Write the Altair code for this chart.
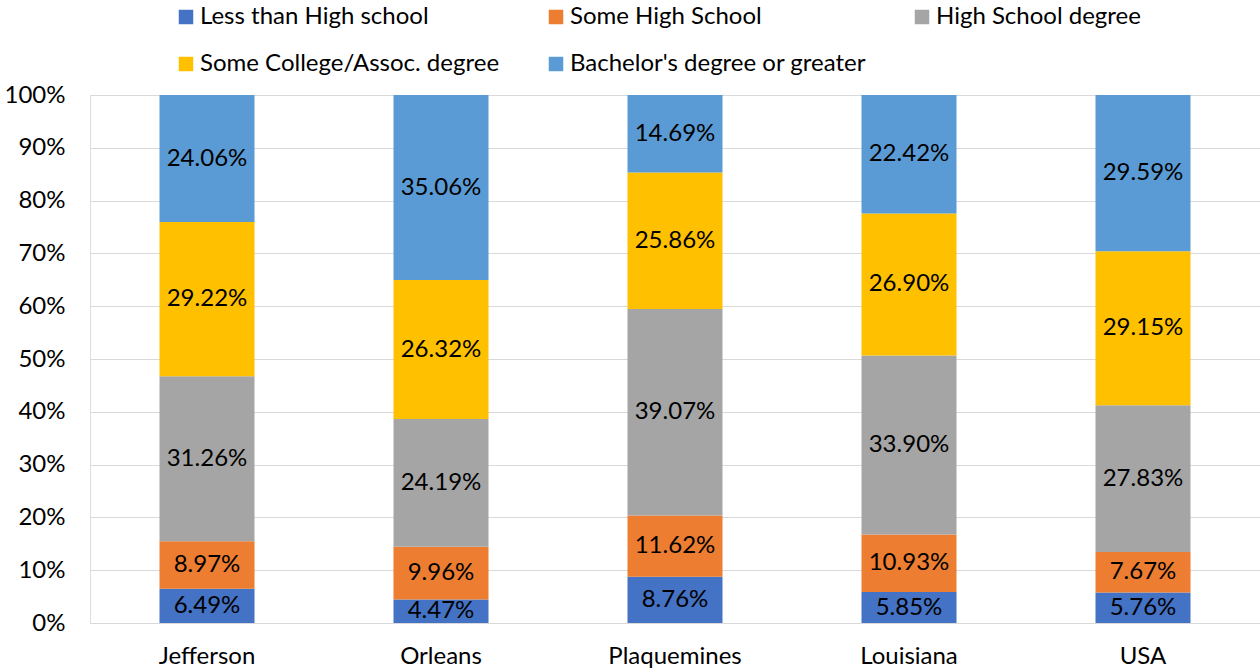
import altair as alt
import pandas as pd

# Educational attainment shares (percent of adults 25+)
regions = ["Jefferson", "Orleans", "Plaquemines", "Louisiana", "USA"]
levels = [
    "Less than High school",
    "Some High School",
    "High School degree",
    "Some College/Assoc. degree",
    "Bachelor's degree or greater",
]
colors = ["#4472C4", "#ED7D31", "#A5A5A5", "#FFC000", "#5B9BD5"]

less_than_hs = [6.49, 4.47, 8.76, 5.85, 5.76]
some_hs = [8.97, 9.96, 11.62, 10.93, 7.67]
hs_degree = [31.26, 24.19, 39.07, 33.90, 27.83]
some_college = [29.22, 26.32, 25.86, 26.90, 29.15]
bachelors = [24.06, 35.06, 14.69, 22.42, 29.59]

series = [less_than_hs, some_hs, hs_degree, some_college, bachelors]
rows = []
for li, (lvl, vals) in enumerate(zip(levels, series)):
    for reg, v in zip(regions, vals):
        rows.append({"region": reg, "level": lvl, "idx": li, "pct": v})
df = pd.DataFrame(rows)

FONT = "Lato"
FS = 24

base = alt.Chart(df).transform_stack(
    stack="pct", groupby=["region"], as_=["y0", "y1"], sort=[alt.SortField("idx", order="ascending")]
).transform_calculate(
    ymid="(datum.y0 + datum.y1) / 2",
    label="format(datum.pct, '.2f') + '%'",
)

x_enc = alt.X(
    "region:N",
    sort=regions,
    scale=alt.Scale(paddingInner=0.594, paddingOuter=0.297),
    axis=alt.Axis(
        title=None, labelAngle=0, domain=False, ticks=False,
        labelFontSize=FS, labelFont=FONT, labelFontWeight="normal",
        labelColor="#000000", labelPadding=21,
    ),
)

bars = base.mark_bar().encode(
    x=x_enc,
    y=alt.Y(
        "y0:Q",
        scale=alt.Scale(domain=[0, 100]),
        axis=alt.Axis(
            title=None, values=list(range(0, 101, 10)), labelExpr="datum.value + '%'",
            domain=False, ticks=False, grid=True, gridColor="#D9D9D9", gridWidth=1,
            labelFontSize=FS, labelFont=FONT, labelFontWeight="normal",
            labelColor="#000000", labelPadding=25,
        ),
    ),
    y2="y1:Q",
    color=alt.Color(
        "level:N",
        sort=levels,
        scale=alt.Scale(domain=levels, range=colors),
        legend=alt.Legend(
            title=None, orient="none", legendX=84, legendY=-90, direction="horizontal",
            columns=3, columnPadding=44, rowPadding=23, symbolType="square", symbolSize=210,
            symbolStrokeWidth=0, labelFontSize=FS, labelFont=FONT, labelFontWeight="normal",
            labelColor="#000000", labelOffset=2, padding=0, labelLimit=400,
        ),
    ),
    order=alt.Order("idx:Q"),
)

labels = base.mark_text(fontSize=FS, font=FONT, color="#000000", baseline="middle").encode(
    x=alt.X("region:N", sort=regions),
    y=alt.Y("ymid:Q"),
    text="label:N",
)

chart = alt.layer(bars, labels).properties(
    width=1170,
    height=528,
    autosize=alt.AutoSizeParams(type="none"),
    padding={"left": 90, "top": 95, "right": 0, "bottom": 46},
).configure_view(stroke=None).configure(background="white")

chart.save("out.html", embed_options={"renderer": "svg", "actions": False})
